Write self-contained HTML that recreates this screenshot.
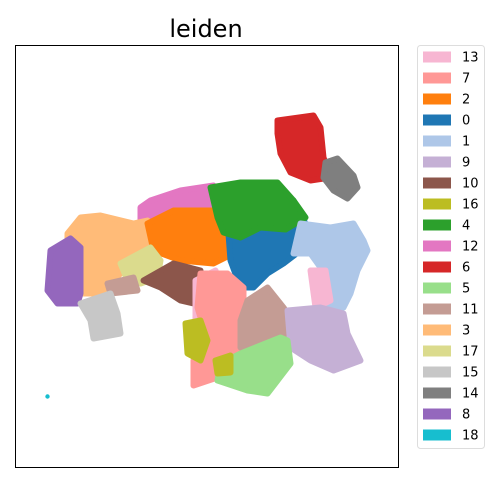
<!DOCTYPE html>
<html><head><meta charset="utf-8">
<style>
body{margin:0;background:#fff;}
svg{display:block;font-family:"DejaVu Sans","Liberation Sans",sans-serif;}
</style></head>
<body>
<svg id="chart" width="500" height="500" viewBox="0 0 500 500">
<text x="206" y="37" font-size="24" text-anchor="middle" fill="#000">leiden</text>
<g id="plot"></g>
<rect x="15.5" y="45.5" width="383" height="422" fill="none" stroke="#000" stroke-width="1"/>
<rect x="417.5" y="45.5" width="67" height="403" rx="3" fill="#fff" stroke="#ddd" stroke-width="1"/>
<g id="legend"></g>
</svg>
<script>
// cluster ids (draw order) and colours
const clusterIds = ["12","3","8","2","0","4","1","17","11","15","10","13","13","7","11","9","5","16","16","6","14"];
const clusterColors = {"0":"#1f77b4","1":"#aec7e8","2":"#ff7f0e","3":"#ffbb78","4":"#2ca02c","5":"#98df8a","6":"#d62728","7":"#ff9896","8":"#9467bd","9":"#c5b0d5","10":"#8c564b","11":"#c49c94","12":"#e377c2","13":"#f7b6d2","14":"#7f7f7f","15":"#c7c7c7","16":"#bcbd22","17":"#dbdb8d","18":"#17becf"};
// cluster outlines in UMAP units
const clusterShapes = [
 [[125,260],[135,267],[165,277],[198,282],[198,254],[152,247],[125,247]],
 [[52,234],[65,250],[85,252],[118,244],[132,247],[138,227],[125,200],[105,194],[85,174],[65,174],[52,207]],
 [[35,217],[55,229],[65,220],[65,174],[62,164],[42,164],[32,177]],
 [[132,244],[158,257],[198,257],[218,240],[218,214],[198,204],[165,207],[138,217]],
 [[212,247],[258,267],[278,267],[292,240],[285,217],[268,204],[252,194],[238,180],[225,180],[215,207]],
 [[195,280],[225,285],[262,285],[278,267],[290,250],[270,238],[245,240],[225,230],[208,235],[202,250]],
 [[285,244],[315,240],[338,244],[348,227],[352,217],[342,197],[335,174],[328,160],[312,160],[305,180],[305,200],[295,214],[278,214]],
 [[105,204],[135,220],[145,207],[142,190],[125,184],[112,187]],
 [[92,184],[118,190],[122,177],[95,174]],
 [[65,164],[95,174],[102,154],[105,134],[78,129],[75,147]],
 [[128,187],[158,204],[185,197],[188,174],[178,164],[165,167],[145,180]],
 [[180,187],[200,197],[210,167],[200,137],[180,137]],
 [[295,197],[310,197],[315,167],[300,160]],
 [[185,194],[212,194],[228,180],[228,134],[225,107],[218,94],[202,90],[178,82],[178,107],[188,140],[182,160]],
 [[232,167],[252,180],[268,160],[282,140],[272,130],[245,124],[225,120],[225,147]],
 [[272,157],[305,160],[328,154],[332,134],[345,107],[318,97],[295,107],[275,120]],
 [[205,104],[225,114],[265,130],[272,127],[275,104],[262,87],[252,74],[232,77],[202,87]],
 [[170,144],[185,147],[192,127],[185,107],[172,114]],
 [[200,107],[215,112],[215,95],[202,94]],
 [[262,347],[298,352],[305,340],[308,310],[315,290],[295,287],[275,295],[265,314],[262,334]],
 [[310,305],[322,309],[338,292],[342,280],[332,269],[318,277],[308,290]]
];
const isolatedX = [32];
const isolatedY = [71];
const legendLabels = ["13","7","2","0","1","9","10","16","4","12","6","5","11","3","17","15","14","8","18"];

const NS = "http://www.w3.org/2000/svg";
const xScale = v => 15.5 + v / 383 * 383;
const yScale = v => 467.5 - v / 422 * 422;
const plot = document.getElementById("plot");
clusterShapes.forEach((shape, i) => {
  const p = document.createElementNS(NS, "polygon");
  p.setAttribute("points", shape.map(([x, y]) => xScale(x) + "," + yScale(y)).join(" "));
  p.setAttribute("fill", clusterColors[clusterIds[i]]);
  p.setAttribute("stroke", clusterColors[clusterIds[i]]);
  p.setAttribute("stroke-width", "6");
  p.setAttribute("stroke-linejoin", "round");
  
  
  plot.appendChild(p);
});
isolatedX.forEach((x, i) => {
  const c = document.createElementNS(NS, "circle");
  c.setAttribute("cx", xScale(x));
  c.setAttribute("cy", yScale(isolatedY[i]));
  c.setAttribute("r", "2.2");
  c.setAttribute("fill", clusterColors["18"]);
  
  
  plot.appendChild(c);
});
const legend = document.getElementById("legend");
legendLabels.forEach((lab, i) => {
  const y = 51.5 + i * 21;
  const g = document.createElementNS(NS, "g");
  
  
  const r = document.createElementNS(NS, "rect");
  r.setAttribute("x", 423); r.setAttribute("y", y);
  r.setAttribute("width", 28); r.setAttribute("height", 11);
  r.setAttribute("fill", clusterColors[lab]);
  g.appendChild(r);
  const t = document.createElementNS(NS, "text");
  t.setAttribute("x", 462); t.setAttribute("y", y + 10);
  t.setAttribute("font-size", "13");
  t.textContent = lab;
  g.appendChild(t);
  legend.appendChild(g);
});
</script>
</body></html>
